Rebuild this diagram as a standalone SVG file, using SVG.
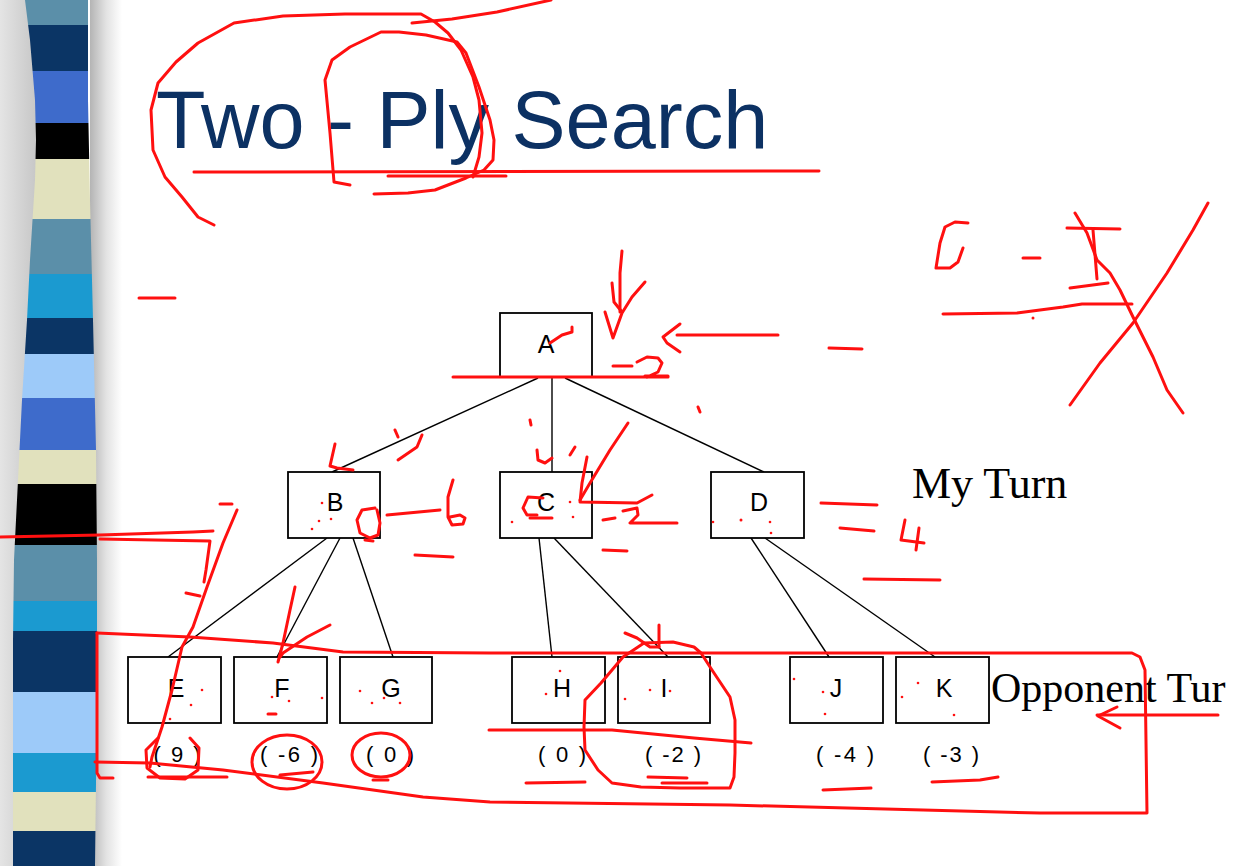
<svg xmlns="http://www.w3.org/2000/svg" width="1234" height="866" viewBox="0 0 1234 866">
<style>
.box{fill:#fff;stroke:#000;stroke-width:1.8}
.lbl{font-family:"Liberation Sans",Arial,sans-serif;font-size:25px;fill:#000;text-anchor:middle}
.val{font-family:"Liberation Sans",Arial,sans-serif;font-size:22px;fill:#000;text-anchor:middle}
.side{font-family:"Liberation Serif","Times New Roman",serif;font-size:44px;fill:#000}
.edge{stroke:#000;stroke-width:1.4;fill:none}
.r{stroke:#ff1010;stroke-width:3;fill:none;stroke-linecap:round;stroke-linejoin:round}
.rd{fill:#ff1010}
</style>
<defs>
<linearGradient id="lsh" x1="0" y1="0" x2="1" y2="0">
<stop offset="0" stop-color="#e4e4e4"/>
<stop offset="1" stop-color="#c4c4c4"/>
</linearGradient>
<linearGradient id="rsh" x1="0" y1="0" x2="1" y2="0">
<stop offset="0" stop-color="#b4b4b4"/>
<stop offset="0.5" stop-color="#e2e2e2"/>
<stop offset="1" stop-color="#ffffff"/>
</linearGradient>
<clipPath id="barclip">
<path d="M25,0 L88,0 L88,100 L90,200 L93,320 L96,450 L97,560 L97,700 L95,866 L13,866 L13,640 L14,560 L18,480 L22,400 L27,320 L30,260 L35,180 L36,140 L35,100 L30,40 Z"/>
</clipPath>
</defs>
<rect x="0" y="0" width="1234" height="866" fill="#fff"/>
<g id="sidebar">
<rect x="0" y="0" width="40" height="866" fill="url(#lsh)"/>
<rect x="90" y="0" width="32" height="866" fill="url(#rsh)"/>
<g clip-path="url(#barclip)">
<rect x="0" y="0" width="110" height="25" fill="#5b8fa9"/>
<rect x="0" y="25" width="110" height="46" fill="#0b3565"/>
<rect x="0" y="71" width="110" height="52" fill="#3e6bcb"/>
<rect x="0" y="123" width="110" height="36" fill="#000"/>
<rect x="0" y="159" width="110" height="60" fill="#e1e1bd"/>
<rect x="0" y="219" width="110" height="55" fill="#5b8fa9"/>
<rect x="0" y="274" width="110" height="44" fill="#1b9ad0"/>
<rect x="0" y="318" width="110" height="36" fill="#0b3565"/>
<rect x="0" y="354" width="110" height="44" fill="#9dcaf9"/>
<rect x="0" y="398" width="110" height="52" fill="#3e6bcb"/>
<rect x="0" y="450" width="110" height="34" fill="#e1e1bd"/>
<rect x="0" y="484" width="110" height="61" fill="#000"/>
<rect x="0" y="545" width="110" height="56" fill="#5b8fa9"/>
<rect x="0" y="601" width="110" height="30" fill="#1b9ad0"/>
<rect x="0" y="631" width="110" height="61" fill="#0b3565"/>
<rect x="0" y="692" width="110" height="61" fill="#9dcaf9"/>
<rect x="0" y="753" width="110" height="39" fill="#1b9ad0"/>
<rect x="0" y="792" width="110" height="39" fill="#e1e1bd"/>
<rect x="0" y="831" width="110" height="35" fill="#0b3565"/>
</g>
</g>
<text id="title" x="156" y="148" font-family="'Liberation Sans',Arial,sans-serif" font-size="81" fill="#0c3163">Two - Ply Search</text>
<g id="connectors">
<line class="edge" x1="538" y1="378" x2="332" y2="472"/>
<line class="edge" x1="552" y1="378" x2="552" y2="472"/>
<line class="edge" x1="565" y1="378" x2="764" y2="472"/>
<line class="edge" x1="327" y1="538" x2="168" y2="657"/>
<line class="edge" x1="340" y1="538" x2="277" y2="657"/>
<line class="edge" x1="353" y1="538" x2="393" y2="657"/>
<line class="edge" x1="539" y1="538" x2="552" y2="657"/>
<line class="edge" x1="554" y1="538" x2="668" y2="657"/>
<line class="edge" x1="751" y1="538" x2="829" y2="657"/>
<line class="edge" x1="765" y1="538" x2="935" y2="657"/>
</g>
<g id="node-A"><rect class="box" x="500" y="313" width="92" height="64"/><text class="lbl" x="546" y="353">A</text></g>
<g id="node-B"><rect class="box" x="288" y="472" width="92" height="66"/><text class="lbl" x="335" y="511">B</text></g>
<g id="node-C"><rect class="box" x="500" y="472" width="92" height="66"/><text class="lbl" x="546" y="511">C</text></g>
<g id="node-D"><rect class="box" x="711" y="472" width="93" height="66"/><text class="lbl" x="759" y="511">D</text></g>
<g id="node-E"><rect class="box" x="128" y="657" width="93" height="66"/><text class="lbl" x="176" y="697">E</text><text class="val" x="177" y="762" textLength="47">( 9 )</text></g>
<g id="node-F"><rect class="box" x="234" y="657" width="93" height="66"/><text class="lbl" x="282" y="697">F</text><text class="val" x="289" y="762" textLength="58">( -6 )</text></g>
<g id="node-G"><rect class="box" x="340" y="657" width="92" height="66"/><text class="lbl" x="391" y="697">G</text><text class="val" x="390" y="762" textLength="48">( 0 )</text></g>
<g id="node-H"><rect class="box" x="512" y="657" width="93" height="66"/><text class="lbl" x="562" y="697">H</text><text class="val" x="562" y="762" textLength="48">( 0 )</text></g>
<g id="node-I"><rect class="box" x="618" y="657" width="92" height="66"/><text class="lbl" x="664" y="697">I</text><text class="val" x="673" y="762" textLength="56">( -2 )</text></g>
<g id="node-J"><rect class="box" x="790" y="657" width="93" height="66"/><text class="lbl" x="836" y="697">J</text><text class="val" x="845" y="762" textLength="58">( -4 )</text></g>
<g id="node-K"><rect class="box" x="896" y="657" width="93" height="66"/><text class="lbl" x="944" y="697">K</text><text class="val" x="951" y="762" textLength="56">( -3 )</text></g>
<g id="side-labels">
<text class="side" x="912" y="498">My Turn</text>
<text class="side" x="991" y="702" font-size="42" style="font-size:42px">Opponent Tur</text>
</g>
<g id="annotations">
<path class="r" d="M214,225 L198,217 L182,197 L165,177 L153,150 L151,110 L158,83 L176,62 L198,43 L234,23 L283,16 L345,14 L421,14 L435,22 L448,33 L461,50 L473,77 L479,100 L482,133 L479,157 L473,177"/>
<path class="r" d="M350,185 L334,182 L330,133 L325,80 L332,60 L350,47 L381,32 L399,32 L426,35 L457,42 L466,53 L479,87 L490,120 L494,140 L493,160 L484,170 L466,178 L435,190 L408,193 L374,194"/>
<path class="r" d="M412,23 L452,19 L497,12 L551,0"/>
<path class="r" d="M194,172 L819,171"/>
<path class="r" d="M388,176 L506,176"/>
<path class="r" d="M139,298 L175,298"/>
<path class="r" d="M968,223 L955,222 L945,227 L940,243 L936,268 L950,268 L958,262 L963,248"/>
<path class="r" d="M1023,258 L1040,258"/>
<path class="r" d="M1067,228 L1120,229"/>
<path class="r" d="M1093,230 L1097,279"/>
<path class="r" d="M1070,288 L1108,283"/>
<path class="r" d="M943,314 L1017,313 L1063,307 L1082,304 L1132,304"/>
<circle class="rd" cx="1033" cy="318" r="1.5"/>
<path class="r" d="M1075,213 L1087,233 L1097,260 L1110,273 L1120,290 L1133,317 L1153,357 L1167,390 L1183,413"/>
<path class="r" d="M1208,203 L1193,230 L1167,273 L1133,323 L1100,363 L1070,405"/>
<path class="r" d="M622,251 L620,273 L620,312"/>
<path class="r" d="M612,283 L614,302 L622,312"/>
<path class="r" d="M605,312 L613,338 L622,313 L632,297 L645,282"/>
<path class="r" d="M778,335 L677,335"/>
<path class="r" d="M680,324 L663,337 L667,343 L680,352"/>
<path class="r" d="M829,348 L862,349"/>
<path class="r" d="M613,366 L632,366"/>
<path class="r" d="M637,362 L647,357 L658,358 L662,363 L658,372 L647,377 L645,376 L668,376"/>
<path class="r" d="M453,377 L668,377"/>
<path class="r" d="M550,343 L562,335 L572,332 L572,327"/>
<path class="r" d="M698,407 L700,412"/>
<path class="r" d="M335,444 L330,466 L337,468 L353,470"/>
<path class="r" d="M395,430 L398,437"/>
<path class="r" d="M422,435 L417,447 L398,460"/>
<path class="r" d="M530,420 L531,425"/>
<path class="r" d="M537,450 L538,460 L545,463 L552,458"/>
<path class="r" d="M575,447 L570,455"/>
<path class="r" d="M628,423 L610,450 L590,483 L580,500"/>
<path class="r" d="M587,457 L582,483 L580,502 L637,503 L652,495"/>
<path class="r" d="M543,498 L528,497 L523,508 L527,515 L537,515"/>
<path class="r" d="M530,518 L552,518"/>
<path class="r" d="M603,520 L615,518"/>
<path class="r" d="M623,511 L637,508 L638,515 L630,523 L632,523 L677,523"/>
<path class="r" d="M603,550 L627,551"/>
<path class="r" d="M375,508 L362,510 L357,520 L360,533 L370,538 L378,535 L380,523 L377,510"/>
<path class="r" d="M365,540 L373,541"/>
<path class="r" d="M387,515 L440,510"/>
<path class="r" d="M453,480 L448,497 L448,517 L452,525 L463,524 L465,518 L460,515 L450,517"/>
<path class="r" d="M415,555 L453,557"/>
<path class="r" d="M821,503 L877,505"/>
<path class="r" d="M840,528 L874,531"/>
<path class="r" d="M905,520 L901,540 L924,543"/>
<path class="r" d="M919,528 L916,550"/>
<path class="r" d="M864,579 L940,580"/>
<path class="r" d="M0,537 L100,535 L193,532 L213,531"/>
<path class="r" d="M100,539 L210,541 L206,570 L204,582"/>
<path class="r" d="M220,504 L232,504"/>
<path class="r" d="M237,510 L223,543 L207,587 L193,627 L182,647 L172,690 L162,727 L152,757 L150,767"/>
<path class="r" d="M186,593 L200,596"/>
<path class="r" d="M295,587 L290,610 L283,643 L278,662"/>
<path class="r" d="M330,625 L307,637 L283,653 L280,657"/>
<path class="r" d="M97,633 L190,637 L273,643 L343,652 L490,653 L1132,653 L1140,657 L1145,670 L1147,813 L1040,813 L730,805 L490,802 L423,797 L323,783 L223,770 L150,763 L95,762"/>
<path class="r" d="M97,633 L97,773 L100,778 L113,778"/>
<path class="r" d="M158,738 L146,750 L147,768 L160,778 L185,779 L198,770 L199,748 L190,738"/>
<path class="r" d="M148,777 L227,777"/>
<ellipse class="r" cx="287" cy="762" rx="35" ry="27"/>
<path class="r" d="M280,775 L313,772"/>
<ellipse class="r" cx="381" cy="755" rx="29" ry="22"/>
<path class="r" d="M373,780 L388,780"/>
<path class="r" d="M694,647 L673,642 L644,643 L623,657 L601,683 L585,700 L584,727 L585,750 L598,770 L612,783 L641,787 L680,788 L730,788 L734,777 L735,753 L735,720 L730,697 L712,670 L701,653 L694,647"/>
<path class="r" d="M625,633 L637,638 L650,647 L659,647"/>
<path class="r" d="M659,625 L659,647"/>
<path class="r" d="M489,730 L612,730 L694,738 L751,743"/>
<path class="r" d="M526,783 L585,782"/>
<path class="r" d="M648,777 L687,778"/>
<path class="r" d="M662,783 L707,783"/>
<path class="r" d="M823,790 L871,788"/>
<path class="r" d="M932,782 L980,780 L998,777"/>
<path class="r" d="M1218,715 L1097,715"/>
<path class="r" d="M1117,707 L1098,716 L1120,728"/>
<circle class="rd" cx="322" cy="503" r="1.3"/><circle class="rd" cx="319" cy="521" r="1.3"/><circle class="rd" cx="331" cy="519" r="1.3"/><circle class="rd" cx="312" cy="529" r="1.3"/>
<circle class="rd" cx="512" cy="522" r="1.3"/><circle class="rd" cx="570" cy="502" r="1.3"/><circle class="rd" cx="573" cy="517" r="1.3"/>
<circle class="rd" cx="713" cy="522" r="1.3"/><circle class="rd" cx="741" cy="520" r="1.5"/><circle class="rd" cx="770" cy="522" r="1.3"/><circle class="rd" cx="771" cy="533" r="1.3"/>
<circle class="rd" cx="202" cy="690" r="1.3"/><circle class="rd" cx="191" cy="705" r="1.3"/><circle class="rd" cx="170" cy="719" r="1.3"/>
<circle class="rd" cx="272" cy="697" r="1.3"/><circle class="rd" cx="289" cy="701" r="1.3"/><circle class="rd" cx="322" cy="698" r="1.3"/><path class="r" d="M268,714 L276,714"/>
<circle class="rd" cx="360" cy="691" r="1.3"/><circle class="rd" cx="372" cy="703" r="1.3"/><circle class="rd" cx="384" cy="698" r="1.3"/><circle class="rd" cx="400" cy="703" r="1.3"/>
<circle class="rd" cx="560" cy="671" r="1.3"/><circle class="rd" cx="546" cy="694" r="1.3"/>
<circle class="rd" cx="625" cy="699" r="1.3"/><circle class="rd" cx="650" cy="690" r="1.3"/><circle class="rd" cx="670" cy="691" r="1.3"/>
<circle class="rd" cx="794" cy="679" r="1.3"/><circle class="rd" cx="823" cy="692" r="1.3"/><circle class="rd" cx="825" cy="714" r="1.3"/>
<circle class="rd" cx="902" cy="697" r="1.3"/><circle class="rd" cx="918" cy="683" r="1.3"/><circle class="rd" cx="954" cy="715" r="1.3"/>
</g>
</svg>
